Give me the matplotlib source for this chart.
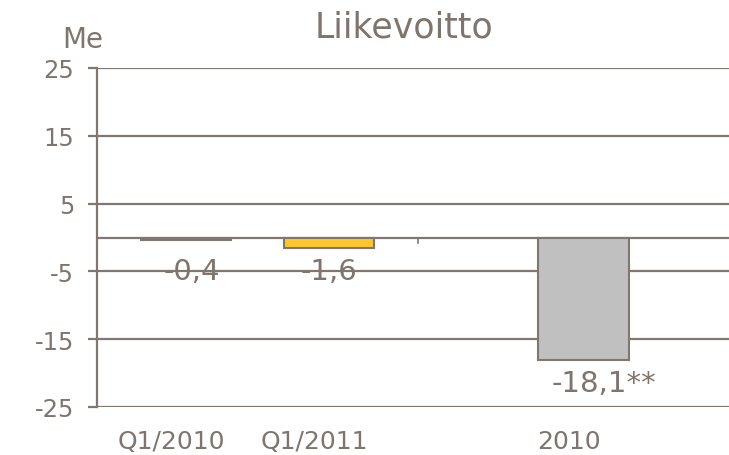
import matplotlib
matplotlib.use("Agg")
import matplotlib.pyplot as plt

categories = ["Q1/2010", "Q1/2011", "2010"]
values = [-0.4, -1.6, -18.1]
value_labels = ["-0,4", "-1,6", "-18,1**"]
yticks = [-25, -15, -5, 5, 15, 25]

positions = [0, 1, 2.78]
colors = ["#8a8079", "#FFC72C", "#C0C0C0"]
edge = "#807770"
txt = "#7f756e"

fig = plt.figure(figsize=(7.29, 4.56), dpi=100)
ax = fig.add_axes([97/729, 1-408/456, 632/729, 339/456])
ax.set_xlim(-0.622, 632/143 - 0.622)
ax.set_ylim(-25, 25)

for y in yticks + [0]:
    ax.axhline(y, color=edge, lw=1.6, zorder=1)

ax.bar(positions, values, width=0.63, color=colors, edgecolor=edge, linewidth=1.5, zorder=3)
# small tick at zero line
ax.plot([1.622, 1.622], [0, -0.8], color=edge, lw=1.2, zorder=2)

offsets = [0.04, 0.0, 0.14]
for p, v, lab, o in zip(positions, values, value_labels, offsets):
    yv = -5.0 if v > -4 else v - 3.3
    ax.text(p + o, yv, lab, ha="center", va="center", fontsize=21, color=txt, zorder=4)

for s in ["top", "right", "bottom"]:
    ax.spines[s].set_visible(False)
ax.spines["left"].set_color(edge)
ax.spines["left"].set_linewidth(1.6)
ax.set_yticks(yticks)
ax.set_yticklabels([str(t) for t in yticks])
ax.tick_params(axis="y", colors=edge, labelcolor=txt, labelsize=17.5, length=6.5, width=1.6, pad=10)
ax.set_xticks([])
for p, c in zip(positions, categories):
    ax.text(p - 0.1, -30.0, c, ha="center", va="center", fontsize=18, color=txt)

fig.text(404/729, 1-27/456, "Liikevoitto", ha="center", va="center", fontsize=25, color=txt)
fig.text(83/729, 1-40/456, "Me", ha="center", va="center", fontsize=20, color=txt)

fig.savefig("out.png", dpi=100)
